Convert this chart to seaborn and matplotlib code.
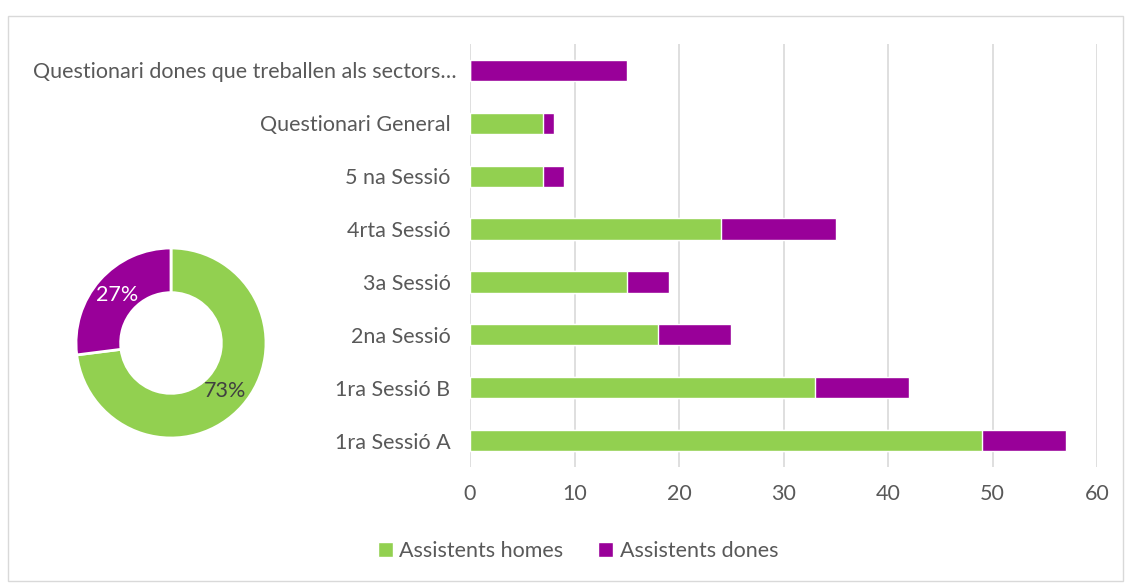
import matplotlib
matplotlib.use('Agg')
import pandas as pd
import seaborn as sns
import matplotlib.pyplot as plt
from matplotlib.patches import Rectangle, Patch

# dades
sessions = ['Questionari dones que treballen als sectors…', 'Questionari General ', '5 na Sessió ',
            '4rta Sessió ', '3a Sessió ', '2na Sessió ', '1ra Sessió B ', '1ra Sessió A ']
homes = [0, 7, 7, 24, 15, 18, 33, 49]
dones = [15, 1, 2, 11, 4, 7, 9, 8]
donut_labels = ['Assistents homes', 'Assistents dones']
donut_pct = [73, 27]

GREEN = '#92D050'
PURPLE = '#990099'
TXT = '#595959'
FS = 15.5

sns.set_theme(style='white')
plt.rcParams['font.family'] = ['Lato', 'DejaVu Sans']

df = pd.DataFrame({'sessio': sessions, 'homes': homes, 'dones': dones})
df['total'] = df['homes'] + df['dones']

fig = plt.figure(figsize=(11.31, 5.83), dpi=100)
fig.patches.append(Rectangle((8 / 1131, 2 / 583), 1 - 16 / 1131, 1 - 18 / 583, transform=fig.transFigure,
                             fill=False, edgecolor='#D9D9D9', linewidth=1))

ax = fig.add_axes([470 / 1131, 1 - 467 / 583, 627 / 1131, 423 / 583])
sns.barplot(data=df, x='total', y='sessio', color=PURPLE, width=0.4, saturation=1, ax=ax, order=sessions)
sns.barplot(data=df, x='homes', y='sessio', color=GREEN, width=0.4, saturation=1, ax=ax, order=sessions)
ax.set_xlim(0, 60)
ax.set_xticks(range(0, 61, 10))
ax.xaxis.grid(True, color='#D9D9D9', linewidth=1.2)
ax.set_axisbelow(True)
for s in ax.spines.values():
    s.set_visible(False)
ax.set_xlabel('')
ax.set_ylabel('')
ax.tick_params(axis='x', labelsize=FS, colors=TXT, pad=12, length=0)
ax.tick_params(axis='y', labelsize=FS, labelcolor=TXT, pad=10, length=0)

ax2 = fig.add_axes([76 / 1131, 1 - 438 / 583, 190 / 1131, 190 / 583])
wedges, texts, autotexts = ax2.pie(donut_pct, colors=[GREEN, PURPLE], startangle=90, counterclock=False,
                                   autopct='%d%%', pctdistance=0.76,
                                   wedgeprops=dict(width=0.47, edgecolor='white', linewidth=2))
autotexts[0].set_color('#404040')
autotexts[1].set_color('white')
for t in autotexts:
    t.set_fontsize(FS)
ax2.set_xlim(-1, 1)
ax2.set_ylim(-1, 1)
ax2.set_aspect('equal')

handles = [Patch(facecolor=GREEN, label='Assistents homes'), Patch(facecolor=PURPLE, label='Assistents dones')]
leg = fig.legend(handles=handles, loc='center', bbox_to_anchor=(578 / 1131, 1 - 551 / 583), ncol=2,
                 frameon=False, fontsize=FS, handlelength=0.7, handleheight=0.7, handletextpad=0.3,
                 columnspacing=1.6)
for t in leg.get_texts():
    t.set_color(TXT)

fig.savefig('out.png', dpi=100)
